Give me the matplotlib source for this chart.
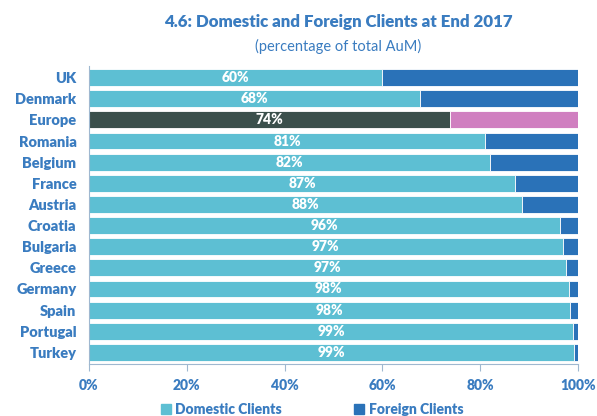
import numpy as np
import matplotlib.pyplot as plt

plt.rcParams['font.family'] = ['Lato', 'DejaVu Sans']

# data (top to bottom)
countries = ["UK", "Denmark", "Europe", "Romania", "Belgium", "France", "Austria",
             "Croatia", "Bulgaria", "Greece", "Germany", "Spain", "Portugal", "Turkey"]
domestic = [60.0, 67.7, 73.8, 81.0, 82.0, 87.1, 88.5, 96.4, 96.9, 97.6, 98.1, 98.4, 99.0, 99.2]
labels = ["60%", "68%", "74%", "81%", "82%", "87%", "88%", "96%", "97%", "97%",
          "98%", "98%", "99%", "99%"]
foreign = [100 - d for d in domestic]

c_dom = "#5dbfd3"
c_for = "#2a72b8"
c_eu_dom = "#3b504c"
c_eu_for = "#d07fc0"
c_txt = "#3a7cc0"
W = 800

fig = plt.figure(figsize=(5.97, 4.16), dpi=100)
ax = fig.add_axes([89 / 597, 1 - 364 / 416, 489 / 597, 298 / 416])

y = np.arange(len(countries))
col_d = [c_eu_dom if c == "Europe" else c_dom for c in countries]
col_f = [c_eu_for if c == "Europe" else c_for for c in countries]

ax.barh(y, domestic, height=0.8, color=col_d, edgecolor="white", linewidth=0.6,
        label="Domestic Clients")
ax.barh(y, foreign, left=domestic, height=0.8, color=col_f, edgecolor="white",
        linewidth=0.6, label="Foreign Clients")

for yi, d, lab in zip(y, domestic, labels):
    ax.text(d / 2, yi, lab, ha="center", va="center", color="white",
            fontsize=10, fontweight=W)

ax.set_ylim(len(countries) - 0.45, -0.55)
ax.set_xlim(0, 100)
ax.set_yticks(y)
ax.set_yticklabels(countries, fontsize=10.5, fontweight=W, color=c_txt)
ax.tick_params(axis="y", length=0, pad=9)
ax.set_xticks(np.arange(0, 101, 20))
ax.set_xticklabels([f"{v}%" for v in range(0, 101, 20)], fontsize=10,
                   fontweight=W, color=c_txt)
ax.tick_params(axis="x", length=5, color="#9fb8d0", direction="out", pad=6)

for s in ["top", "right"]:
    ax.spines[s].set_visible(False)
ax.spines["left"].set_color("#9fb8d0")
ax.spines["bottom"].set_color("#9fb8d0")

fig.text(0.5 + 40 / 597, 1 - 22 / 416, "4.6: Domestic and Foreign Clients at End 2017",
         ha="center", va="center", fontsize=12.2, fontweight=W, color="#3a7cc0")
fig.text(0.5 + 40 / 597, 1 - 46 / 416, "(percentage of total AuM)",
         ha="center", va="center", fontsize=10.5, color="#3a7cc0")

h = [plt.Rectangle((0, 0), 1, 1, color=c_dom), plt.Rectangle((0, 0), 1, 1, color=c_for)]
fig.legend(h, ["Domestic Clients", "Foreign Clients"], loc="center",
           bbox_to_anchor=(0.523, 1 - 409 / 416), ncol=2, frameon=False,
           handlelength=0.7, handleheight=0.7, columnspacing=5.2, handletextpad=0.35,
           prop={"weight": W, "size": 10}, labelcolor=c_txt)

fig.savefig("out.png", dpi=100)
